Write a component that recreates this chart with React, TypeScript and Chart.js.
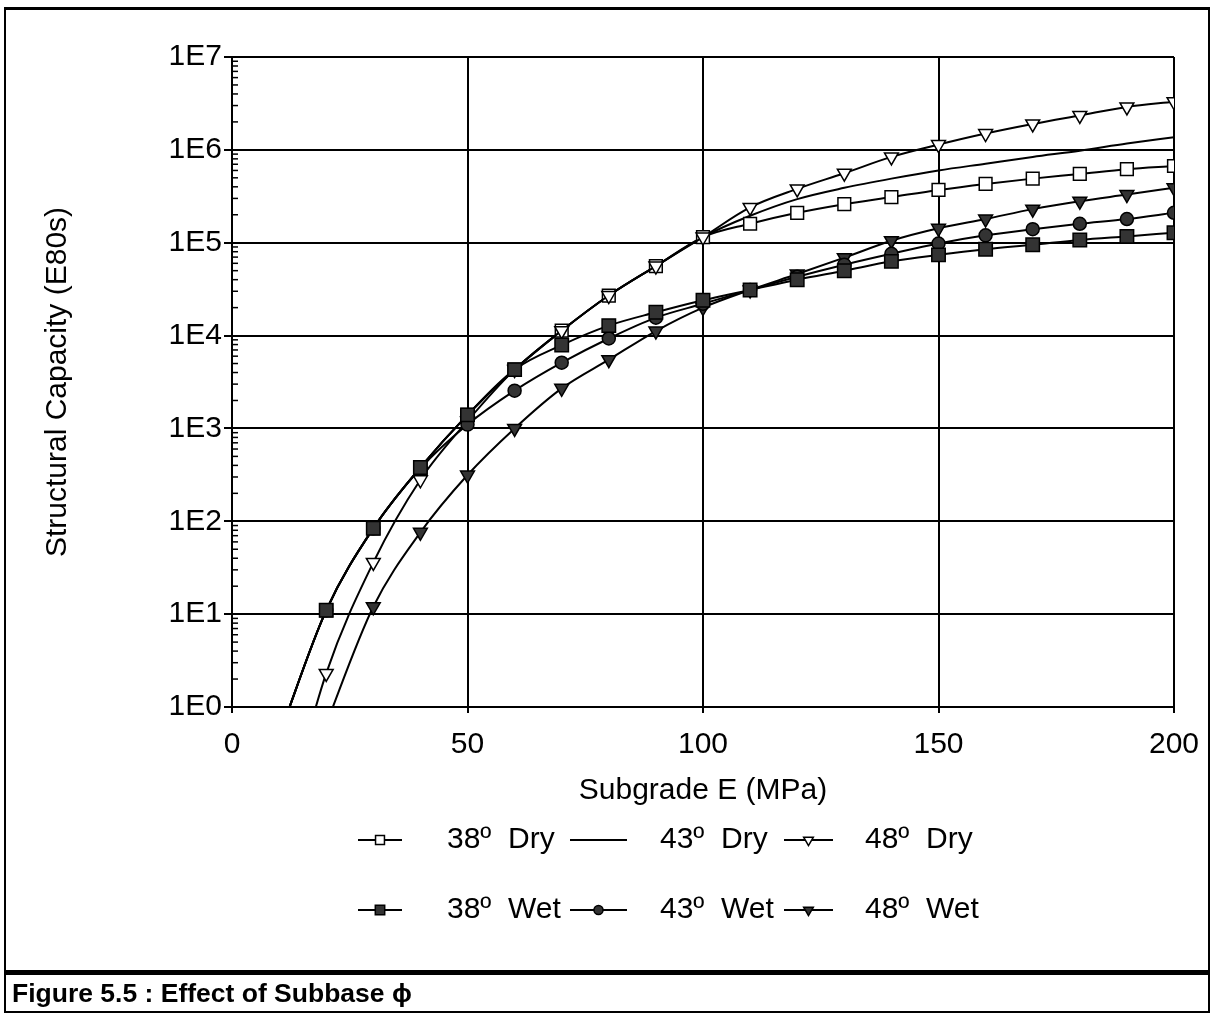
import React, { useEffect, useRef } from "react";
import { Chart, registerables } from "chart.js";
import { drawPoint } from "chart.js/helpers";

Chart.register(...registerables);

// ---- data ----
const subgradeE = [10, 20, 30, 40, 50, 60, 70, 80, 90, 100, 110, 120, 130, 140, 150, 160, 170, 180, 190, 200];

const dry38 = [0.49, 11, 84, 380, 1400, 4300, 11300, 27000, 56000, 115000, 160000, 210000, 260000, 310000, 370000, 430000, 490000, 550000, 620000, 670000];
const dry43 = [0.49, 11, 84, 380, 1400, 4300, 11300, 27000, 56000, 115000, 195000, 295000, 390000, 490000, 600000, 710000, 840000, 980000, 1170000, 1370000];
const dry48 = [0.036, 2.3, 36, 280, 1200, 4300, 11300, 27000, 56000, 115000, 240000, 380000, 560000, 840000, 1140000, 1500000, 1900000, 2350000, 2900000, 3300000];
const wet38 = [0.49, 11, 84, 380, 1400, 4300, 7900, 12800, 17800, 24000, 31000, 40000, 50000, 63000, 74000, 85000, 95000, 107000, 117000, 128000];
const wet43 = [0.49, 11, 84, 370, 1100, 2550, 5100, 9300, 15600, 22000, 31000, 43000, 58000, 76000, 98000, 120000, 140000, 160000, 180000, 210000];
const wet48 = [0.03, 0.65, 12, 76, 315, 1000, 2700, 5500, 11200, 20000, 31000, 46000, 69000, 105000, 143000, 180000, 230000, 280000, 330000, 390000];

const seriesLabels = ["38º  Dry", "43º  Dry", "48º  Dry", "38º  Wet", "43º  Wet", "48º  Wet"];
const yTickValues = [1, 10, 100, 1000, 10000, 100000, 1000000, 10000000];
const yTickLabels = ["1E0", "1E1", "1E2", "1E3", "1E4", "1E5", "1E6", "1E7"];
const xTickValues = [0, 50, 100, 150, 200];

const FONT = "'Liberation Sans', Arial, Helvetica, sans-serif";
const FILL_DARK = "#333333";

type Style = { pointStyle: any; radius: number; rotation: number; fill: string };
const styles: Style[] = [
  { pointStyle: "rect", radius: 9, rotation: 0, fill: "#ffffff" },
  { pointStyle: false, radius: 0, rotation: 0, fill: "#ffffff" },
  { pointStyle: "triangle", radius: 8, rotation: 180, fill: "#ffffff" },
  { pointStyle: "rect", radius: 9.5, rotation: 0, fill: FILL_DARK },
  { pointStyle: "circle", radius: 6.5, rotation: 0, fill: FILL_DARK },
  { pointStyle: "triangle", radius: 8, rotation: 180, fill: FILL_DARK },
];
const seriesData = [dry38, dry43, dry48, wet38, wet43, wet48];
const drawOrder = [2, 2, 1, 0, 0, 0];

const minorTicksPlugin = {
  id: "minorTicks",
  afterDatasetsDraw(chart: any) {
    const y = chart.scales.y;
    const area = chart.chartArea;
    const ctx = chart.ctx;
    ctx.save();
    ctx.strokeStyle = "#000";
    ctx.lineWidth = 1.5;
    for (let d = 0; d < yTickValues.length - 1; d++) {
      for (let k = 2; k <= 9; k++) {
        const py = y.getPixelForValue(yTickValues[d] * k);
        ctx.beginPath();
        ctx.moveTo(area.left, py);
        ctx.lineTo(area.left + 6, py);
        ctx.stroke();
      }
    }
    ctx.restore();
  },
};

// legend layout (canvas px)
const legendRowsY = [840, 910];
const legendCols = [
  { lineStart: 358, lineEnd: 402, textX: 447 },
  { lineStart: 570, lineEnd: 627, textX: 660 },
  { lineStart: 784, lineEnd: 833, textX: 865 },
];

const legendPlugin = {
  id: "customLegend",
  afterDraw(chart: any) {
    const ctx = chart.ctx;
    ctx.save();
    chart.data.datasets.forEach((ds: any, i: number) => {
      const row = Math.floor(i / 3);
      const col = i % 3;
      const yy = legendRowsY[row];
      const c = legendCols[col];
      ctx.strokeStyle = "#000";
      ctx.lineWidth = 2;
      ctx.beginPath();
      ctx.moveTo(c.lineStart, yy);
      ctx.lineTo(c.lineEnd, yy);
      ctx.stroke();
      const st = styles[i];
      if (st.pointStyle) {
        ctx.fillStyle = st.fill;
        ctx.strokeStyle = "#000";
        ctx.lineWidth = 1.5;
        drawPoint(
          ctx,
          { pointStyle: st.pointStyle, rotation: st.rotation, radius: st.radius * 0.7, borderWidth: 1.5 },
          (c.lineStart + c.lineEnd) / 2,
          yy
        );
      }
      ctx.fillStyle = "#000";
      ctx.font = `30px ${FONT}`;
      ctx.textBaseline = "middle";
      ctx.textAlign = "left";
      ctx.fillText(ds.label, c.textX, yy);
    });
    ctx.restore();
  },
};

export default function App() {
  const canvasRef = useRef<HTMLCanvasElement | null>(null);

  useEffect(() => {
    const canvas = canvasRef.current;
    if (!canvas) return;
    const datasets = seriesLabels.map((label, i) => ({
      label,
      data: subgradeE.map((x, j) => ({ x, y: seriesData[i][j] })),
      borderColor: "#000",
      borderWidth: 2,
      backgroundColor: styles[i].fill,
      pointStyle: styles[i].pointStyle,
      pointRadius: styles[i].radius,
      pointHoverRadius: styles[i].radius,
      pointRotation: styles[i].rotation,
      pointBackgroundColor: styles[i].fill,
      pointBorderColor: "#000",
      pointBorderWidth: 1.5,
      cubicInterpolationMode: "monotone" as const,
      fill: false,
      order: drawOrder[i],
    }));

    const chart = new Chart(canvas, {
      type: "line",
      data: { datasets },
      options: {
        responsive: false,
        animation: false,
        events: [],
        layout: { padding: { left: 36, top: 57, right: 41, bottom: 155 } },
        plugins: { legend: { display: false }, tooltip: { enabled: false } },
        scales: {
          x: {
            type: "linear",
            min: 0,
            max: 200,
            afterBuildTicks: (scale: any) => {
              scale.ticks = xTickValues.map((v) => ({ value: v }));
            },
            afterFit: (scale: any) => {
              scale.height = 106;
            },
            ticks: {
              color: "#000",
              font: { family: FONT, size: 30 },
              padding: 14,
              maxRotation: 0,
              autoSkip: false,
            },
            grid: { color: "#000", lineWidth: 2, tickLength: 6, drawTicks: true },
            border: { color: "#000", width: 2 },
            title: {
              display: true,
              text: "Subgrade E (MPa)",
              color: "#000",
              font: { family: FONT, size: 30 },
              padding: 4,
            },
          },
          y: {
            type: "logarithmic",
            min: 1,
            max: 10000000,
            afterBuildTicks: (scale: any) => {
              scale.ticks = yTickValues.map((v) => ({ value: v }));
            },
            afterFit: (scale: any) => {
              scale.width = 196;
            },
            ticks: {
              color: "#000",
              font: { family: FONT, size: 30 },
              padding: 2,
              autoSkip: false,
              callback: (value: any) => {
                const idx = yTickValues.indexOf(Number(value));
                return idx >= 0 ? yTickLabels[idx] : "";
              },
            },
            grid: { color: "#000", lineWidth: 2, tickLength: 8 },
            border: { color: "#000", width: 2 },
            title: {
              display: true,
              text: "Structural Capacity (E80s)",
              color: "#000",
              font: { family: FONT, size: 30 },
              padding: 4,
            },
          },
        },
      },
      plugins: [minorTicksPlugin, legendPlugin],
    });
    return () => chart.destroy();
  }, []);

  return (
    <div style={{ position: "absolute", left: 0, top: 0, width: 1215, height: 1016, background: "#fff", overflow: "hidden" }}>
      <canvas ref={canvasRef} width={1215} height={968} style={{ position: "absolute", left: 0, top: 0, width: 1215, height: 968 }} />
      <div
        style={{
          position: "absolute",
          left: 4,
          top: 7,
          width: 1206,
          height: 1006,
          border: "2px solid #000",
          borderTopWidth: 3,
          boxSizing: "border-box",
          pointerEvents: "none",
        }}
      />
      <div style={{ position: "absolute", left: 4, top: 970, width: 1206, borderTop: "5px solid #000" }} />
      <div
        style={{
          position: "absolute",
          left: 12,
          top: 980,
          fontFamily: FONT,
          fontWeight: "bold",
          fontSize: 26.5,
          lineHeight: "26px",
          color: "#000",
          whiteSpace: "nowrap",
        }}
      >
        Figure 5.5 : Effect of Subbase ϕ
      </div>
    </div>
  );
}
